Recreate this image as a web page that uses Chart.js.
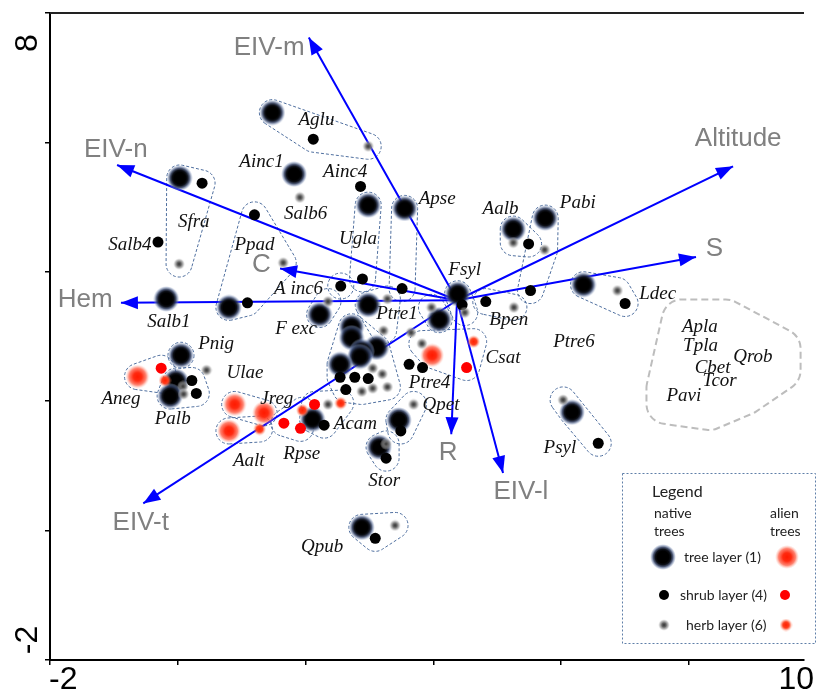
<!DOCTYPE html>
<html>
<head>
<title>Ordination biplot</title>
<style>
    body {
        margin: 0;
        background: #fff;
        overflow: hidden;
    }
</style>
<script src="https://cdn.jsdelivr.net/npm/chart.js"></script>
</head>
<body>
<canvas id="plot" width="817" height="693"></canvas>
<script>
// species scores per layer, g = group the dashed outline goes round
const treeNative = [
    {x: 1.48, y: 6.46, g: 'Aglu'}, {x: 1.82, y: 5.51, g: null}, {x: 2.98, y: 5.03, g: 'Ugla'},
    {x: 3.55, y: 4.98, g: 'Apse'}, {x: 5.25, y: 4.66, g: 'Aalb'}, {x: 5.75, y: 4.83, g: 'Pabi'},
    {x: 0.03, y: 5.45, g: 'Sfra'}, {x: -0.18, y: 3.58, g: null}, {x: 0.8, y: 3.45, g: 'Ppad'},
    {x: 2.22, y: 3.34, g: 'Fexc'}, {x: 2.98, y: 3.49, g: 'Ptre1'}, {x: 4.38, y: 3.66, g: 'Fsyl'},
    {x: 4.09, y: 3.26, g: 'Ptre6'}, {x: 2.72, y: 3.15, g: 'Ptre4'}, {x: 2.72, y: 2.98, g: 'Ptre4'},
    {x: 3.11, y: 2.83, g: 'Ptre4'}, {x: 2.88, y: 2.77, g: 'Ptre4'}, {x: 2.85, y: 2.69, g: 'Ptre4'},
    {x: 2.54, y: 2.57, g: 'Ptre4'}, {x: 3.46, y: 1.71, g: 'Qpet'}, {x: 3.15, y: 1.29, g: 'Stor'},
    {x: 2.88, y: 0.05, g: 'Qpub'}, {x: 2.11, y: 1.72, g: 'Acam'}, {x: 0.05, y: 2.71, g: 'Pnig'},
    {x: -0.03, y: 2.31, g: 'Palb'}, {x: -0.12, y: 2.08, g: 'Palb'}, {x: 6.35, y: 3.8, g: 'Ldec'},
    {x: 6.17, y: 1.83, g: 'Psyl'}
];
const shrubNative = [
    {x: 2.12, y: 6.05, g: 'Aglu'}, {x: 2.86, y: 5.32, g: null}, {x: 5.49, y: 4.43, g: 'Aalb'},
    {x: 5.52, y: 3.71, g: 'Pabi'}, {x: 0.38, y: 5.37, g: 'Sfra'}, {x: -0.31, y: 4.46, g: null},
    {x: 1.2, y: 4.88, g: 'Ppad'}, {x: 1.09, y: 3.52, g: 'Ppad'}, {x: 2.55, y: 3.78, g: 'Ainc6'},
    {x: 2.89, y: 3.89, g: 'Ugla'}, {x: 3.51, y: 3.74, g: 'Apse'}, {x: 4.45, y: 3.49, g: 'Fsyl'},
    {x: 4.82, y: 3.54, g: 'Bpen'}, {x: 2.54, y: 2.37, g: 'Ptre4'}, {x: 2.77, y: 2.37, g: 'Ptre4'},
    {x: 2.98, y: 2.35, g: 'Ptre4'}, {x: 2.63, y: 2.18, g: 'Ptre4'}, {x: 3.62, y: 2.57, g: null},
    {x: 3.83, y: 2.52, g: null}, {x: 3.49, y: 1.54, g: 'Qpet'}, {x: 3.26, y: 1.12, g: 'Stor'},
    {x: 3.09, y: -0.12, g: 'Qpub'}, {x: 2.29, y: 1.63, g: 'Acam'}, {x: 0.22, y: 2.32, g: 'Palb'},
    {x: 0.29, y: 2.12, g: 'Palb'}, {x: 7.0, y: 3.51, g: 'Ldec'}, {x: 6.58, y: 1.35, g: 'Psyl'}
];
const herbNative = [
    {x: 2.98, y: 5.94, g: 'Aglu'}, {x: 1.91, y: 5.15, g: null}, {x: 5.25, y: 4.45, g: 'Aalb'},
    {x: 5.74, y: 4.34, g: 'Pabi'}, {x: 0.02, y: 4.12, g: 'Sfra'}, {x: 1.65, y: 4.14, g: 'Ppad'},
    {x: 2.35, y: 3.54, g: 'Fexc'}, {x: 3.28, y: 3.58, g: 'Ptre1'}, {x: 3.22, y: 3.09, g: 'Ptre1'},
    {x: 4.49, y: 3.37, g: 'Fsyl'}, {x: 3.97, y: 3.45, g: 'Ptre6'}, {x: 5.26, y: 3.45, g: 'Bpen'},
    {x: 3.05, y: 2.51, g: 'Ptre4'}, {x: 3.2, y: 2.42, g: 'Ptre4'}, {x: 2.88, y: 2.15, g: 'Ptre4'},
    {x: 3.05, y: 2.2, g: 'Ptre4'}, {x: 3.28, y: 2.22, g: 'Ptre4'}, {x: 3.65, y: 3.06, g: null},
    {x: 3.82, y: 2.89, g: 'Csat'}, {x: 3.69, y: 1.95, g: 'Qpet'}, {x: 3.26, y: 1.34, g: 'Stor'},
    {x: 3.4, y: 0.08, g: 'Qpub'}, {x: 2.35, y: 1.95, g: 'Acam'}, {x: 0.45, y: 2.48, g: null},
    {x: 0.08, y: 2.23, g: 'Palb'}, {x: 0.09, y: 2.11, g: 'Palb'}, {x: 6.88, y: 3.71, g: 'Ldec'},
    {x: 6.03, y: 2.02, g: 'Psyl'}
];
const treeAlien = [
    {x: 3.98, y: 2.71, g: 'Csat'}, {x: 0.89, y: 1.95, g: 'Jreg'}, {x: 1.35, y: 1.82, g: 'Jreg'},
    {x: 0.8, y: 1.54, g: 'Aalt'}, {x: -0.63, y: 2.38, g: 'Aneg'}
];
const shrubAlien = [
    {x: 4.52, y: 2.52, g: 'Csat'}, {x: 2.14, y: 1.95, g: 'Acam'}, {x: 1.66, y: 1.66, g: 'Rpse'},
    {x: 1.92, y: 1.58, g: 'Rpse'}, {x: -0.26, y: 2.51, g: 'Aneg'}
];
const herbAlien = [
    {x: 4.63, y: 2.92, g: 'Csat'}, {x: 2.55, y: 1.97, g: 'Acam'}, {x: 1.95, y: 1.86, g: 'Rpse'},
    {x: 1.28, y: 1.57, g: 'Aalt'}, {x: -0.2, y: 2.32, g: 'Aneg'}
];

// species name labels
const spNames = ['Aglu', 'Ainc1', 'Salb6', 'Ainc4', 'Ugla', 'Apse', 'Aalb', 'Pabi', 'Sfra', 'Salb4',
    'Ppad', 'Salb1', 'A inc6', 'F exc', 'Ptre1', 'Fsyl', 'Bpen', 'Ptre6', 'Csat', 'Ptre4', 'Qpet',
    'Stor', 'Qpub', 'Acam', 'Rpse', 'Jreg', 'Aalt', 'Pnig', 'Ulae', 'Aneg', 'Palb', 'Ldec', 'Psyl'];
const spX = [2.17, 1.31, 2.0, 2.62, 2.82, 4.06, 5.05, 6.26, 0.25, -0.75,
    1.2, -0.14, 1.89, 1.85, 3.43, 4.49, 5.18, 6.2, 5.09, 3.94, 4.12,
    3.23, 2.26, 2.78, 1.94, 1.55, 1.11, 0.6, 1.05, -0.89, -0.08, 7.51, 5.98];
const spY = [6.34, 5.69, 4.89, 5.54, 4.51, 5.12, 4.97, 5.06, 4.77, 4.42,
    4.42, 3.23, 3.74, 3.11, 3.35, 4.03, 3.26, 2.92, 2.66, 2.28, 1.94,
    0.77, -0.26, 1.65, 1.18, 2.03, 1.08, 2.89, 2.43, 2.03, 1.72, 3.66, 1.28];

// species found only as aliens outside the plots
const alienNames = ['Apla', 'Tpla', 'Cbet', 'Qrob', 'Tcor', 'Pavi'];
const alienX = [8.17, 8.18, 8.37, 9.0, 8.48, 7.92];
const alienY = [3.14, 2.86, 2.52, 2.69, 2.31, 2.08];

// fitted environmental vectors
const arrowOrigin = {x: 4.37, y: 3.56};
const envNames = ['EIV-m', 'EIV-n', 'Altitude', 'S', 'C', 'Hem', 'EIV-t', 'R', 'EIV-l'];
const envTipX = [2.05, -0.95, 8.69, 8.11, 1.6, -0.89, -0.54, 4.28, 5.09];
const envTipY = [7.62, 5.65, 5.63, 4.23, 4.05, 3.52, 0.42, 1.49, 0.89];
const envLabelX = [1.43, -0.97, 8.77, 8.4, 1.31, -1.45, -0.58, 4.23, 5.37];
const envLabelY = [7.46, 5.88, 6.05, 4.35, 4.11, 3.57, 0.12, 1.2, 0.6];

function blob(size, stops) {
    const c = document.createElement('canvas');
    c.width = c.height = size;
    const g = c.getContext('2d');
    const r = size / 2;
    const grad = g.createRadialGradient(r, r, 0, r, r, r);
    stops.forEach(s => grad.addColorStop(s[0], s[1]));
    g.fillStyle = grad;
    g.beginPath();
    g.arc(r, r, r, 0, Math.PI * 2);
    g.fill();
    return c;
}

const imgTree = blob(26, [[0, '#000'], [0.45, '#000'], [0.6, '#0d1018'], [0.75, 'rgba(45,58,92,0.85)'], [0.9, 'rgba(115,135,175,0.45)'], [1, 'rgba(180,190,220,0)']]);
const imgTreeA = blob(24, [[0, '#ff1a00'], [0.35, '#ff2a10'], [0.7, 'rgba(255,85,60,0.75)'], [1, 'rgba(255,170,150,0)']]);
const imgHerb = blob(12, [[0, '#333'], [0.35, '#666'], [0.7, 'rgba(150,150,150,0.6)'], [1, 'rgba(220,220,220,0)']]);
const imgHerbA = blob(13, [[0, '#ff2000'], [0.5, '#ff4020'], [1, 'rgba(255,150,120,0)']]);

function hull(pts) {
    pts = pts.slice().sort((a, b) => a[0] - b[0] || a[1] - b[1]);
    if (pts.length < 3) return pts;
    const cross = (o, a, b) => (a[0] - o[0]) * (b[1] - o[1]) - (a[1] - o[1]) * (b[0] - o[0]);
    const lower = [], upper = [];
    for (const p of pts) {
        while (lower.length >= 2 && cross(lower[lower.length - 2], lower[lower.length - 1], p) <= 0) lower.pop();
        lower.push(p);
    }
    for (let i = pts.length - 1; i >= 0; i--) {
        const p = pts[i];
        while (upper.length >= 2 && cross(upper[upper.length - 2], upper[upper.length - 1], p) <= 0) upper.pop();
        upper.push(p);
    }
    upper.pop();
    lower.pop();
    return lower.concat(upper);
}

function roundedHull(ctx, pts, r) {
    const h = hull(pts);
    ctx.beginPath();
    if (h.length === 1) {
        ctx.arc(h[0][0], h[0][1], r, 0, Math.PI * 2);
        return;
    }
    const n = h.length;
    for (let i = 0; i < n; i++) {
        const p = h[i], a = h[(i - 1 + n) % n], b = h[(i + 1) % n];
        const a1 = Math.atan2(-(p[0] - a[0]), p[1] - a[1]);
        const a2 = Math.atan2(-(b[0] - p[0]), b[1] - p[1]);
        ctx.arc(p[0], p[1], r, a1, a2, false);
    }
    ctx.closePath();
}

const ordPlugin = {
    id: 'ord',
    beforeDatasetsDraw(chart) {
        const ctx = chart.ctx, xs = chart.scales.x, ys = chart.scales.y, area = chart.chartArea;
        ctx.save();
        // top frame line
        ctx.strokeStyle = '#222';
        ctx.lineWidth = 2;
        ctx.beginPath();
        ctx.moveTo(area.left, area.top);
        ctx.lineTo(area.right, area.top);
        ctx.stroke();

        // dashed outlines round each species
        const groups = {};
        [treeNative, shrubNative, herbNative, treeAlien, shrubAlien, herbAlien].forEach(arr => {
            arr.forEach(p => {
                if (!p.g) return;
                (groups[p.g] = groups[p.g] || []).push([xs.getPixelForValue(p.x), ys.getPixelForValue(p.y)]);
            });
        });
        ctx.setLineDash([3, 2]);
        ctx.strokeStyle = '#4f6f9f';
        ctx.lineWidth = 1;
        Object.keys(groups).forEach(k => {
            roundedHull(ctx, groups[k], 13);
            ctx.stroke();
        });

        // outline round the alien-only names
        ctx.font = 'italic 19px "Liberation Serif"';
        const box = [];
        alienNames.forEach((t, i) => {
            const w = ctx.measureText(t).width / 2;
            const px = xs.getPixelForValue(alienX[i]), py = ys.getPixelForValue(alienY[i]);
            box.push([px - w, py - 8], [px + w + 8, py - 8], [px - w, py + 8], [px + w + 8, py + 14]);
        });
        ctx.setLineDash([7, 4]);
        ctx.strokeStyle = '#bdbdbd';
        ctx.lineWidth = 2;
        roundedHull(ctx, box, 20);
        ctx.stroke();
        ctx.restore();
    },
    afterDatasetsDraw(chart) {
        const ctx = chart.ctx, xs = chart.scales.x, ys = chart.scales.y;
        ctx.save();
        // arrow heads
        const ox = xs.getPixelForValue(arrowOrigin.x), oy = ys.getPixelForValue(arrowOrigin.y);
        ctx.fillStyle = '#0000ff';
        envNames.forEach((n, i) => {
            const tx = xs.getPixelForValue(envTipX[i]), ty = ys.getPixelForValue(envTipY[i]);
            const ang = Math.atan2(ty - oy, tx - ox);
            ctx.save();
            ctx.translate(tx, ty);
            ctx.rotate(ang);
            ctx.beginPath();
            ctx.moveTo(0, 0);
            ctx.lineTo(-17, -6.5);
            ctx.lineTo(-17, 6.5);
            ctx.closePath();
            ctx.fill();
            ctx.restore();
        });

        // vector names
        ctx.font = '26px "Liberation Sans"';
        ctx.fillStyle = '#808080';
        ctx.textAlign = 'center';
        ctx.textBaseline = 'middle';
        envNames.forEach((n, i) => {
            ctx.fillText(n, xs.getPixelForValue(envLabelX[i]), ys.getPixelForValue(envLabelY[i]));
        });

        // species names
        ctx.font = 'italic 19px "Liberation Serif"';
        ctx.fillStyle = '#111';
        spNames.forEach((n, i) => {
            ctx.fillText(n, xs.getPixelForValue(spX[i]), ys.getPixelForValue(spY[i]));
        });
        alienNames.forEach((n, i) => {
            ctx.fillText(n, xs.getPixelForValue(alienX[i]), ys.getPixelForValue(alienY[i]));
        });

        // axis numbers
        ctx.fillStyle = '#000';
        ctx.font = '32px "Liberation Sans"';
        ctx.textBaseline = 'alphabetic';
        ctx.textAlign = 'left';
        ctx.fillText('-2', xs.getPixelForValue(-2) - 1, 689);
        ctx.textAlign = 'right';
        ctx.fillText('10', 814, 689);
        ctx.textAlign = 'center';
        [[8, 30], [-2, -20]].forEach(([v, off]) => {
            ctx.save();
            ctx.translate(37, ys.getPixelForValue(v) + off);
            ctx.rotate(-Math.PI / 2);
            ctx.fillText(String(v), 0, 0);
            ctx.restore();
        });

        // legend box
        ctx.setLineDash([2, 2]);
        ctx.strokeStyle = '#5f7fa8';
        ctx.lineWidth = 1;
        ctx.strokeRect(622.5, 473.5, 193, 170);
        ctx.setLineDash([]);
        ctx.fillStyle = '#222';
        ctx.textAlign = 'left';
        ctx.textBaseline = 'middle';
        ctx.font = '16px Lato';
        ctx.fillText('Legend', 652, 492);
        ctx.font = '14px Lato';
        ctx.fillText('native', 654, 513);
        ctx.fillText('trees', 654, 531);
        ctx.fillText('alien', 770, 513);
        ctx.fillText('trees', 770, 531);
        ctx.fillText('tree layer (1)', 684, 557);
        ctx.fillText('shrub layer (4)', 680, 595);
        ctx.fillText('herb layer (6)', 686, 625);
        const put = (img, x, y) => ctx.drawImage(img, x - img.width / 2, y - img.height / 2);
        put(imgTree, 663, 557);
        put(imgTreeA, 787, 557);
        put(imgHerb, 664, 625);
        put(imgHerbA, 786, 625);
        ctx.fillStyle = '#000';
        ctx.beginPath();
        ctx.arc(664, 595, 5, 0, Math.PI * 2);
        ctx.fill();
        ctx.fillStyle = '#ff0000';
        ctx.beginPath();
        ctx.arc(785, 595, 5, 0, Math.PI * 2);
        ctx.fill();
        ctx.restore();
    }
};

const datasets = [
    {label: 'herb native', data: herbNative, pointStyle: imgHerb, pointRadius: 6},
    {label: 'herb alien', data: herbAlien, pointStyle: imgHerbA, pointRadius: 6},
    {label: 'shrub native', data: shrubNative, pointStyle: 'circle', pointRadius: 5.5, backgroundColor: '#000', borderWidth: 0},
    {label: 'shrub alien', data: shrubAlien, pointStyle: 'circle', pointRadius: 5.5, backgroundColor: '#ff0000', borderWidth: 0},
    {label: 'tree native', data: treeNative, pointStyle: imgTree, pointRadius: 12},
    {label: 'tree alien', data: treeAlien, pointStyle: imgTreeA, pointRadius: 12}
];
envNames.forEach((n, i) => {
    datasets.push({
        label: n,
        data: [arrowOrigin, {x: envTipX[i], y: envTipY[i]}],
        showLine: true,
        borderColor: '#0000ff',
        borderWidth: 2,
        pointRadius: 0,
        fill: false
    });
});

const axisLine = {color: '#000', width: 2};
const tickGrid = {drawOnChartArea: false, drawTicks: true, tickLength: 5, color: '#000', lineWidth: 1.5};

new Chart(document.getElementById('plot'), {
    type: 'scatter',
    data: {datasets: datasets},
    options: {
        responsive: false,
        animation: false,
        events: [],
        layout: {padding: {top: 10, left: 0, right: 0, bottom: 0}},
        plugins: {legend: {display: false}, tooltip: {enabled: false}},
        scales: {
            x: {
                type: 'linear', min: -2, max: 9.8,
                ticks: {display: false, stepSize: 2, includeBounds: false},
                grid: tickGrid, border: axisLine,
                afterFit: s => { s.height = 33; }
            },
            y: {
                type: 'linear', min: -2, max: 8,
                ticks: {display: false, stepSize: 2},
                grid: tickGrid, border: axisLine,
                afterFit: s => { s.width = 50; }
            }
        }
    },
    plugins: [ordPlugin]
});
</script>
</body>
</html>
